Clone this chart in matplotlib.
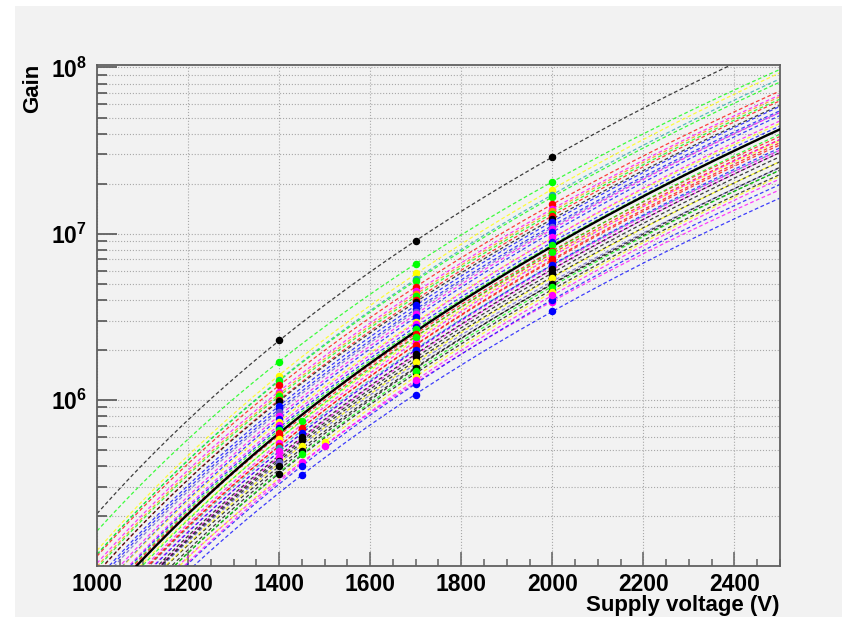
import numpy as np
import matplotlib
matplotlib.use('Agg')
import matplotlib.pyplot as plt
from matplotlib.ticker import LogLocator, MultipleLocator, NullFormatter, FixedLocator
from matplotlib.patches import Rectangle

# ---------------- data (gains in units of 1e6) ----------------
volts_A = [1400, 1700, 2000]
gain_A_1400 = [2.28, 1.70, 1.40, 1.32, 1.30, 1.22, 1.12, 1.08, 1.05, 1.00, 0.98, 0.92,
               0.88, 0.85, 0.80, 0.77, 0.74, 0.71, 0.68, 0.66, 0.63, 0.61, 0.58, 0.55,
               0.53, 0.51, 0.49, 0.455, 0.43, 0.42, 0.40, 0.36]
gain_A_1700 = [9.0, 6.6, 5.8, 5.3, 5.2, 4.8, 4.5, 4.35, 4.2, 4.0, 3.9, 3.7,
               3.5, 3.4, 3.3, 3.15, 2.95, 2.85, 2.75, 2.65, 2.50, 2.42, 2.30, 2.25,
               2.12, 2.02, 1.97, 1.85, 1.72, 1.62, 1.55, 1.45]
gain_A_2000 = [29.0, 20.5, 18.4, 17.2, 16.6, 15.0, 14.0, 13.6, 13.2, 12.8, 12.2, 11.8,
               11.2, 10.9, 10.6, 10.2, 9.4, 9.5, 8.9, 8.6, 7.9, 7.6, 7.4, 7.3,
               6.9, 6.5, 6.4, 6.1, 5.5, 5.2, 5.0, 4.6]
colors_A = ['black', 'lime', 'yellow', '#20a8a8', 'lime', 'red', 'magenta', '#ff8c00',
            'lime', 'red', 'black', 'blue', 'blue', '#6a5acd', 'magenta', 'blue',
            'yellow', 'magenta', 'blue', 'lime', 'red', 'red', 'yellow', 'magenta',
            'red', '#20a8a8', 'magenta', 'magenta', 'black', '#6a5acd', 'black', 'black']

volts_B = [1450, 1700, 2000]
gain_B_1450 = [0.75, 0.68, 0.63, 0.595, 0.57, 0.53, 0.49, 0.47, 0.42, 0.40, 0.355]
gain_B_1700 = [2.40, 2.15, 2.00, 1.90, 1.80, 1.70, 1.55, 1.50, 1.28, 1.25, 1.07]
gain_B_2000 = [7.8, 7.0, 6.5, 6.1, 5.8, 5.4, 5.0, 4.8, 3.9, 4.0, 3.42]
colors_B = ['lime', 'red', 'blue', 'black', 'black', 'yellow', 'black', 'lime',
            'magenta', 'blue', 'blue']

volts_C = [1500, 1700, 2000]
gain_C_1500 = [0.56, 0.53]
gain_C_1700 = [1.38, 1.31]
gain_C_2000 = [4.45, 4.25]
colors_C = ['yellow', 'magenta']

ref_volts = [1400, 1700, 2000]
ref_gain = [0.63, 2.58, 8.4]

# ---------------- style ----------------
plt.rcParams['font.family'] = ['Liberation Sans', 'DejaVu Sans']
plt.rcParams['font.weight'] = 'bold'
plt.rcParams['mathtext.fontset'] = 'custom'
plt.rcParams['mathtext.rm'] = 'Liberation Sans:bold'
plt.rcParams['mathtext.bf'] = 'Liberation Sans:bold'

W, H = 842, 618
fig = plt.figure(figsize=(W / 100, H / 100), dpi=100, facecolor='white')
fig.patches.append(Rectangle((15 / W, 1 / H), 1 - 15 / W, 611 / H, transform=fig.transFigure,
                             facecolor='#f2f2f2', edgecolor='none', zorder=-10))
ax = fig.add_axes([97 / W, 52 / H, 683 / W, 501 / H])
ax.set_facecolor('#f2f2f2')

vv = np.linspace(1000, 2500, 300)


def draw_group(volts, g1, g2, g3, cols):
    for a, b, c, col in zip(g1, g2, g3, cols):
        g = np.array([a, b, c]) * 1e6
        coef = np.polyfit(np.log10(volts), np.log10(g), 1)
        ax.plot(vv, 10 ** np.polyval(coef, np.log10(vv)), ls=(0, (3, 2)), lw=0.9,
                color=col, alpha=0.75, zorder=2)


def draw_points(volts, g1, g2, g3, cols):
    for a, b, c, col in zip(g1, g2, g3, cols):
        g = np.array([a, b, c]) * 1e6
        ax.plot(volts, g, 'o', ms=4.4, color=col, mec=col, zorder=5)


draw_group(volts_A, gain_A_1400, gain_A_1700, gain_A_2000, colors_A)
draw_group(volts_B, gain_B_1450, gain_B_1700, gain_B_2000, colors_B)
draw_group(volts_C, gain_C_1500, gain_C_1700, gain_C_2000, colors_C)

rg = np.array(ref_gain) * 1e6
rc = np.polyfit(np.log10(ref_volts), np.log10(rg), 1)
ax.plot(vv, 10 ** np.polyval(rc, np.log10(vv)), color='black', lw=1.7, zorder=4)

draw_points(volts_A, gain_A_1400, gain_A_1700, gain_A_2000, colors_A)
draw_points(volts_B, gain_B_1450, gain_B_1700, gain_B_2000, colors_B)
draw_points(volts_C, gain_C_1500, gain_C_1700, gain_C_2000, colors_C)

ax.set_yscale('log')
ax.set_xlim(1000, 2500)
ax.set_ylim(1.0e5, 1.035e8)

ax.xaxis.set_major_locator(MultipleLocator(200))
ax.xaxis.set_minor_locator(MultipleLocator(50))
ax.yaxis.set_major_locator(FixedLocator([1e6, 1e7, 1e8]))
ax.set_yticklabels([r'$\mathbf{10^{6}}$', r'$\mathbf{10^{7}}$', r'$\mathbf{10^{8}}$'])
ax.yaxis.set_minor_locator(LogLocator(base=10, subs=np.arange(2, 10), numticks=20))
ax.yaxis.set_minor_formatter(NullFormatter())

spine_col = '#606060'
for s in ax.spines.values():
    s.set_color(spine_col)
    s.set_linewidth(1.3)

ax.tick_params(axis='y', which='major', direction='in', length=14.5, width=1.3,
               color=spine_col, labelsize=16.5, pad=7)
ax.tick_params(axis='y', which='minor', direction='in', length=7.5, width=1.3, color=spine_col)
ax.tick_params(axis='x', which='major', direction='in', length=10, width=1.1,
               color=spine_col, labelsize=16.5, pad=5)
ax.tick_params(axis='x', which='minor', direction='in', length=5, width=1.1, color=spine_col)

ax.grid(True, axis='x', which='major', ls=':', color='#a8a8a8', lw=0.8, zorder=0)
ax.grid(True, axis='y', which='both', ls=':', color='#a8a8a8', lw=0.8, zorder=0)
ax.set_axisbelow(True)

fig.text(33 / W, 1 - 64 / H, 'Gain', rotation=90, ha='center', va='top',
         fontsize=16, fontweight='bold')
fig.text(780 / W, 1 - 611 / H, 'Supply voltage (V)', ha='right', va='baseline',
         fontsize=16, fontweight='bold')

fig.savefig('out.png', dpi=100, facecolor='white')
